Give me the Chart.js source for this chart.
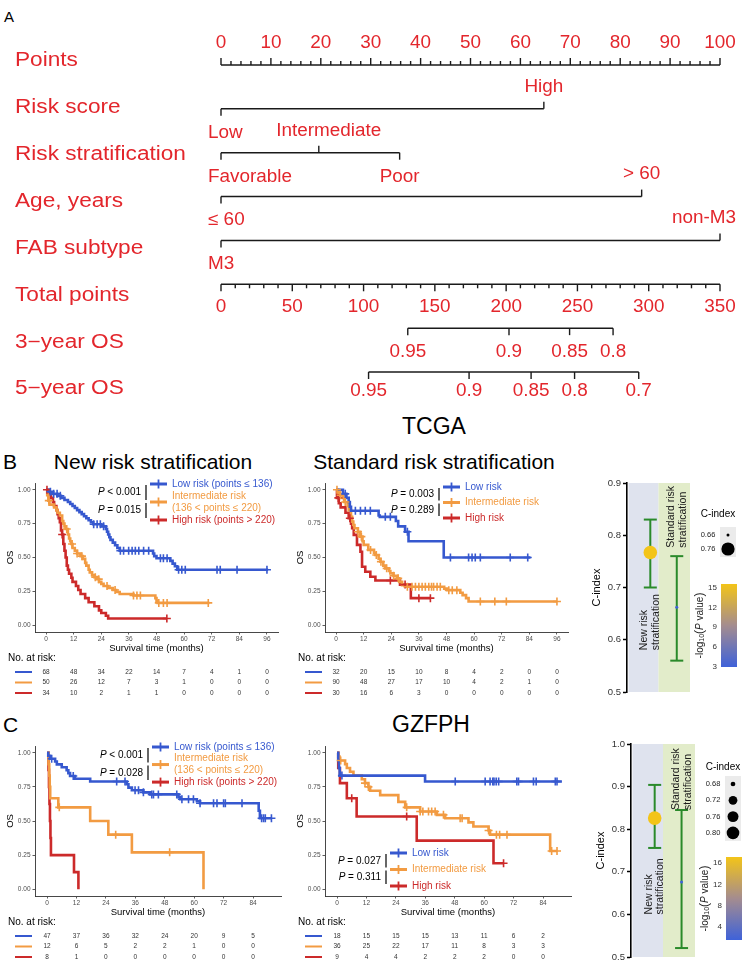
<!DOCTYPE html>
<html>
<head>
<meta charset="utf-8">
<title>Nomogram and survival by risk stratification</title>
<script src="https://cdn.jsdelivr.net/npm/chart.js@4.4.1/dist/chart.umd.min.js"></script>
<style>
  html, body { margin: 0; padding: 0; background: #fff; }
  body { width: 755px; height: 972px; position: relative; overflow: hidden; font-family: "Liberation Sans", Arial, sans-serif; }
  canvas { position: absolute; }
  .t { position: absolute; white-space: nowrap; line-height: 1; transform: translate(-50%, -50%); color: #000; }
  .lt { position: absolute; white-space: nowrap; line-height: 1; transform: translateY(-50%); color: #000; }
</style>
</head>
<body>
<div class="lt" style="left:4px;top:16px;font-size:15px">A</div>
<div class="lt" style="left:3px;top:461px;font-size:21px">B</div>
<div class="t" style="left:153px;top:461px;font-size:21px">New risk stratification</div>
<div class="t" style="left:434px;top:426px;font-size:23px">TCGA</div>
<div class="t" style="left:434px;top:461px;font-size:21px">Standard risk stratification</div>
<div class="lt" style="left:3px;top:724px;font-size:21px">C</div>
<div class="t" style="left:431px;top:724px;font-size:23px">GZFPH</div>

<canvas id="nomo"></canvas>
<canvas id="kmB1"></canvas>
<canvas id="kmB2"></canvas>
<canvas id="cB"></canvas>
<canvas id="kmC1"></canvas>
<canvas id="kmC2"></canvas>
<canvas id="cC"></canvas>

<script>
const FF = '"Liberation Sans", Arial, sans-serif';
const RED_TXT = '#e3262c';
const COLS = ['#3658cf', '#f29b42', '#cc2a2a'];
Chart.defaults.font.family = FF;

// ---------- nomogram (A)
const nomoRowNames = ['Points', 'Risk score', 'Risk stratification', 'Age, years', 'FAB subtype', 'Total points', '3\u2212year OS', '5\u2212year OS'];
const pointsTicks = [0, 10, 20, 30, 40, 50, 60, 70, 80, 90, 100];
const riskScoreLevels = ['Low', 'High'];
const riskScorePts = [0, 64.7];
const riskStratLevels = ['Favorable', 'Intermediate', 'Poor'];
const riskStratPts = [0, 19.6, 35.8];
const ageLevels = ['\u2264 60', '> 60'];
const agePts = [0, 84.3];
const fabLevels = ['M3', 'non-M3'];
const fabPts = [0, 100];
const totalTicks = [0, 50, 100, 150, 200, 250, 300, 350];
const os3Labels = ['0.95', '0.9', '0.85', '0.8'];
const os3Total = [131, 202, 244.5, 275];
const os5Labels = ['0.95', '0.9', '0.85', '0.8', '0.7'];
const os5Total = [103.5, 174, 217.5, 248, 293];

// ---------- Kaplan-Meier step points [months, OS] and censor times
const tcgaNewLow = [[0,1],[1.5,0.985],[3,0.97],[5,0.955],[6.5,0.94],[8,0.925],[9.5,0.91],[10.5,0.895],[11.5,0.88],[12.5,0.865],[13.5,0.85],[14.5,0.835],[15.5,0.82],[16.5,0.805],[17.5,0.79],[18.5,0.775],[19.5,0.76],[20.5,0.745],[24,0.73],[26,0.71],[26.5,0.69],[27,0.67],[27.5,0.65],[28,0.63],[29,0.61],[30,0.59],[31,0.57],[32,0.55],[46.5,0.53],[47,0.51],[48,0.495],[54,0.475],[55,0.455],[56,0.435],[57,0.41],[96.5,0.41]];
const tcgaNewInt = [[0,1],[0.5,0.96],[1,0.92],[1.5,0.89],[3.5,0.87],[4.5,0.85],[5,0.83],[6,0.81],[7,0.77],[7.5,0.75],[8,0.73],[8.5,0.71],[9.5,0.67],[10,0.64],[10.5,0.62],[11,0.6],[11.5,0.57],[12.5,0.55],[13.5,0.53],[15,0.51],[16,0.49],[17,0.46],[17.5,0.44],[18.5,0.41],[19,0.39],[20,0.37],[21,0.355],[22,0.34],[23,0.32],[24,0.305],[25,0.29],[27,0.275],[29,0.26],[30.5,0.245],[32,0.23],[38,0.22],[47.5,0.2],[48,0.18],[48.5,0.165],[71,0.165]];
const tcgaNewHigh = [[0,1],[1.5,0.97],[2,0.94],[3,0.91],[3.5,0.88],[4.5,0.85],[5,0.82],[5.5,0.79],[6,0.76],[6.5,0.7],[7,0.67],[7.5,0.6],[8,0.55],[8.5,0.5],[9,0.44],[9.5,0.41],[10,0.38],[11,0.35],[11.5,0.32],[13,0.29],[14,0.26],[15,0.23],[17,0.2],[18.5,0.17],[21,0.14],[23,0.11],[24,0.09],[26,0.07],[27,0.05],[52.5,0.05]];
const tcgaNewLowCens = [1.9,3.3,4.8,6.2,20.7,22.2,23.6,25,32.3,33.7,35.9,37.4,38.8,40.3,42.4,44.6,49.7,51,52.6,57.6,59,60.5,74.3,75.7,83,96];
const tcgaNewIntCens = [1.2,9,11.3,13.5,15.6,21.4,22.9,26.5,30,38,39.5,41,49,51,52.6,70.5];
const tcgaNewHighCens = [0.4,7,52.5];

const tcgaStdLow = [[0,1],[3,0.97],[4.5,0.94],[5.5,0.91],[6,0.875],[6.5,0.845],[18.5,0.81],[19,0.8],[26,0.77],[27,0.73],[30,0.69],[31.5,0.62],[46.8,0.5],[84.5,0.5]];
const tcgaStdInt = [[0,1],[1,0.98],[1.5,0.96],[3,0.94],[3.5,0.91],[5,0.88],[5.5,0.85],[6.5,0.8],[7,0.765],[7.5,0.74],[8,0.716],[9.5,0.69],[10.5,0.654],[11.5,0.62],[12,0.593],[14,0.556],[16.5,0.535],[17,0.519],[18.5,0.49],[19.3,0.469],[20.5,0.44],[21.4,0.42],[23,0.4],[23.6,0.383],[25,0.365],[26.5,0.346],[27.5,0.32],[28.7,0.296],[30.8,0.284],[47,0.27],[48.2,0.259],[54,0.24],[55,0.222],[56.5,0.2],[57.6,0.175],[96,0.175]];
const tcgaStdHigh = [[0,1],[0.4,0.94],[1.2,0.9],[2,0.87],[4.1,0.83],[5.5,0.79],[6.5,0.75],[7,0.716],[7.7,0.667],[9.1,0.593],[10.6,0.543],[11.3,0.432],[12.7,0.395],[14.9,0.358],[17.1,0.33],[27.8,0.3],[32.5,0.2],[41,0.2]];
const tcgaStdLowCens = [4,8.4,10.6,12.7,14.9,21.4,23.6,31,49.7,57.6,59.1,60.5,62.7,75.7,83.3];
const tcgaStdIntCens = [0.4,2,4,9.5,11,15,17.5,19.5,22,25,27,31,33,34.5,36,37.4,38.8,40.3,41.5,42.4,43.9,45.3,49,50.5,52.5,62.7,69,74,96];
const tcgaStdHighCens = [1,6,23.6,30,36,41];

const gzNewLow = [[0,1],[0.5,0.979],[1.2,0.957],[3.3,0.936],[4,0.915],[6,0.894],[8,0.872],[8.7,0.851],[9.4,0.83],[11.4,0.81],[17.6,0.79],[32.5,0.77],[33.2,0.745],[34.6,0.725],[39.3,0.71],[42,0.695],[53.6,0.675],[54.3,0.66],[61.1,0.645],[62.4,0.63],[86.3,0.575],[86.8,0.52],[91.5,0.52]];
const gzNewInt = [[0,1],[0.6,0.917],[0.9,0.833],[1.1,0.75],[1.3,0.667],[4.6,0.6],[17.6,0.5],[25,0.4],[34.6,0.27],[63.8,0]];
const gzNewHigh = [[0,1],[0.6,0.875],[0.8,0.75],[1,0.625],[1.2,0.5],[1.4,0.375],[1.6,0.25],[11,0.125],[12.8,0]];
const gzNewLowCens = [1.9,10.7,28.4,31.8,35.9,37.3,39.3,42.7,43.4,45.4,52.9,55,57.7,59.7,62.4,67.9,69.3,72,72.7,79.5,87.5,88.3,89,91.5];
const gzNewIntCens = [5,28,50];
const gzNewHighCens = [];

const gzStdLow = [[0,1],[0.5,0.944],[0.8,0.889],[1.1,0.833],[35.9,0.79],[91.7,0.79]];
const gzStdInt = [[0,1],[0.5,0.972],[1,0.944],[3.3,0.917],[4,0.889],[5.3,0.861],[6.7,0.833],[10.1,0.806],[11.4,0.778],[12.8,0.75],[13.5,0.722],[17.6,0.69],[25,0.64],[27.8,0.6],[33.9,0.57],[40.7,0.545],[44.1,0.52],[53.6,0.49],[55.6,0.46],[61.8,0.43],[62.4,0.4],[86.9,0.28],[89.7,0.28]];
const gzStdHigh = [[0,1],[0.5,0.889],[1.2,0.778],[4,0.667],[8,0.533],[32.5,0.356],[63.8,0.19],[67.9,0.19]];
const gzStdLowCens = [2,48.2,60.4,62.4,63.5,64,64.9,65.9,73.3,74,80.1,81.2,89,89.7];
const gzStdIntCens = [1.5,11.4,12.8,28.4,33.9,35,37.3,38.6,40,43.4,50.2,51,61.8,65,66.3,69.3,87.5,89.7];
const gzStdHighCens = [6,28.4,67.9];

// ---------- numbers at risk
const riskTimesTcga = [0, 12, 24, 36, 48, 60, 72, 84, 96];
const riskTimesGz = [0, 12, 24, 36, 48, 60, 72, 84];
const tcgaNewAtRisk = [[68,48,34,22,14,7,4,1,0],[50,26,12,7,3,1,0,0,0],[34,10,2,1,1,0,0,0,0]];
const tcgaStdAtRisk = [[32,20,15,10,8,4,2,0,0],[90,48,27,17,10,4,2,1,0],[30,16,6,3,0,0,0,0,0]];
const gzNewAtRisk = [[47,37,36,32,24,20,9,5],[12,6,5,2,2,1,0,0],[8,1,0,0,0,0,0,0]];
const gzStdAtRisk = [[18,15,15,15,13,11,6,2],[36,25,22,17,11,8,3,3],[9,4,4,2,2,2,0,0]];

const tcgaNewP = ['< 0.001', '= 0.015'];
const tcgaStdP = ['= 0.003', '= 0.289'];
const gzNewP = ['< 0.001', '= 0.028'];
const gzStdP = ['= 0.027', '= 0.311'];
const newRiskLabels = [['Low risk (points \u2264 136)'], ['Intermediate risk', '(136 < points \u2264 220)'], ['High risk (points > 220)']];
const stdRiskLabels = [['Low risk'], ['Intermediate risk'], ['High risk']];

// ---------- C-index comparison
const cGroups = ['New risk stratification', 'Standard risk stratification'];
const tcgaCIndex = [0.767, 0.662];
const tcgaCLow = [0.70, 0.56];
const tcgaCHigh = [0.83, 0.76];
const tcgaLogP = [15.6, 2.9];
const tcgaSizeLegend = [0.66, 0.76];
const tcgaBarTicks = [3, 6, 9, 12, 15];
const gzCIndex = [0.826, 0.676];
const gzCLow = [0.756, 0.521];
const gzCHigh = [0.904, 0.845];
const gzLogP = [17.1, 1.6];
const gzSizeLegend = [0.68, 0.72, 0.76, 0.80];
const gzBarTicks = [4, 8, 12, 16];

// ---------- helpers
function sText(ctx, s, x, y, align, size, hs) {
  ctx.save();
  ctx.font = size + 'px ' + FF;
  ctx.textBaseline = 'middle';
  ctx.translate(x, y);
  ctx.scale(hs, 1);
  ctx.textAlign = align;
  ctx.fillText(s, 0, 0);
  ctx.restore();
}
function sWidth(ctx, s, size, hs) {
  ctx.save();
  ctx.font = size + 'px ' + FF;
  const w = ctx.measureText(s).width * hs;
  ctx.restore();
  return w;
}
function seg(ctx, x1, y1, x2, y2) {
  ctx.beginPath(); ctx.moveTo(x1, y1); ctx.lineTo(x2, y2); ctx.stroke();
}
function survAt(curve, t) {
  let s = curve[0][1];
  curve.forEach(p => { if (p[0] <= t) s = p[1]; });
  return s;
}
function place(cv, L, T, W, H) {
  cv.width = W; cv.height = H;
  cv.style.left = L + 'px'; cv.style.top = T + 'px';
  cv.style.width = W + 'px'; cv.style.height = H + 'px';
}

// ---------- nomogram chart
const varRows = [[riskScoreLevels, riskScorePts], [riskStratLevels, riskStratPts], [ageLevels, agePts], [fabLevels, fabPts]];
const osRows = [[os3Labels, os3Total], [os5Labels, os5Total]];
const nomoLine = (axis, row, vals) => ({
  xAxisID: axis, yAxisID: 'y',
  data: [{ x: Math.min(...vals), y: row }, { x: Math.max(...vals), y: row }],
  showLine: true, borderColor: '#1a1a1a', borderWidth: 1.5, pointRadius: 0, clip: false
});
const nomoSets = [nomoLine('pts', 0, pointsTicks)];
varRows.forEach((r, i) => nomoSets.push(nomoLine('pts', i + 1, r[1])));
nomoSets.push(nomoLine('tot', 5, totalTicks));
osRows.forEach((r, i) => nomoSets.push(nomoLine('tot', 6 + i, r[1])));

const nomoPlugin = {
  id: 'nomo',
  afterDatasetsDraw(chart) {
    const ctx = chart.ctx, ca = chart.chartArea;
    const pts = chart.scales.pts, tot = chart.scales.tot, ys = chart.scales.y;
    const rowY = i => ys.getPixelForValue(i);
    ctx.save();
    ctx.strokeStyle = '#1a1a1a';
    ctx.lineWidth = 1.4;
    ctx.fillStyle = RED_TXT;
    const tick = (x, y, len) => seg(ctx, x, y, x, y + len);
    const label = (s, x, y) => {
      const w = sWidth(ctx, s, 17.5, 1.08);
      let cx = x;
      if (cx - w / 2 < ca.left - 13) cx = ca.left - 13 + w / 2;
      if (cx + w / 2 > ca.right + 16) cx = ca.right + 16 - w / 2;
      sText(ctx, s, cx, y, 'center', 17.5, 1.08);
    };
    nomoRowNames.forEach((n, i) => sText(ctx, n, 15, rowY(i) + 3 * i - 4, 'left', 19.5, 1.16));

    // Points scale
    let y = rowY(0);
    for (let v = pointsTicks[0]; v <= pointsTicks[pointsTicks.length - 1]; v += 2) {
      tick(pts.getPixelForValue(v), y, v % 10 === 0 ? -7 : -4);
    }
    pointsTicks.forEach(v => label(String(v), pts.getPixelForValue(v), y - 22));

    // predictors
    varRows.forEach(([levels, vals], k) => {
      const yy = rowY(k + 1);
      levels.forEach((lv, j) => {
        const up = j % 2 === 1;
        const x = pts.getPixelForValue(vals[j]);
        tick(x, yy, up ? -7 : 7);
        label(lv, x + (up && j < levels.length - 1 ? 10 : 0), up ? yy - 22 : yy + 24);
      });
    });

    // Total points
    y = rowY(5);
    for (let v = totalTicks[0]; v <= totalTicks[totalTicks.length - 1]; v += 10) {
      tick(tot.getPixelForValue(v), y, v % 50 === 0 ? 7 : 4);
    }
    totalTicks.forEach(v => label(String(v), tot.getPixelForValue(v), y + 23));

    // survival probabilities
    osRows.forEach(([labs, vals], k) => {
      const yy = rowY(6 + k);
      vals.forEach((v, j) => {
        const x = tot.getPixelForValue(v);
        tick(x, yy, 7);
        label(labs[j], x, yy + (k === 0 ? 24 : 19));
      });
    });
    ctx.restore();
  }
};

const nomoCv = document.getElementById('nomo');
place(nomoCv, 0, 0, 755, 405);
new Chart(nomoCv, {
  type: 'scatter',
  data: { datasets: nomoSets },
  options: {
    responsive: false, animation: false, events: [],
    layout: { autoPadding: false, padding: { left: 221, right: 35, top: 65, bottom: 33 } },
    plugins: { legend: { display: false }, tooltip: { enabled: false } },
    scales: {
      pts: { type: 'linear', axis: 'x', min: 0, max: 100, display: false },
      tot: { type: 'linear', axis: 'x', min: 0, max: 350, display: false },
      y: { type: 'linear', min: 0, max: 7, reverse: true, display: false }
    }
  },
  plugins: [nomoPlugin]
});

// ---------- KM charts
function drawP(ctx, txt, xRight, y) {
  ctx.font = 'italic 10px ' + FF;
  const wP = ctx.measureText('P').width;
  ctx.font = '10px ' + FF;
  const wR = ctx.measureText(' ' + txt).width;
  const x = xRight - wP - wR;
  ctx.fillStyle = '#000';
  ctx.textAlign = 'left';
  ctx.font = 'italic 10px ' + FF;
  ctx.fillText('P', x, y);
  ctx.font = '10px ' + FF;
  ctx.fillText(' ' + txt, x + wP, y);
}

function kmChart(id, o) {
  const cv = document.getElementById(id);
  place(cv, o.L, o.T, o.W, o.H);
  const a = o.area;
  const sets = [];
  o.curves.forEach((curve, i) => {
    sets.push({
      data: o.cens[i].map(t => ({ x: t, y: survAt(curve, t) })),
      showLine: false, pointStyle: 'cross', pointRadius: 4,
      pointBorderWidth: 1.6, pointBorderColor: COLS[i], pointBackgroundColor: COLS[i], order: 1
    });
    sets.push({
      data: curve.map(p => ({ x: p[0], y: p[1] })),
      showLine: true, stepped: 'before', borderColor: COLS[i], borderWidth: 2.6,
      pointRadius: 0, fill: false, order: 2
    });
  });
  const kmPlugin = {
    id: 'km_' + id,
    afterDraw(chart) {
      const ctx = chart.ctx, ca = chart.chartArea, xs = chart.scales.x;
      ctx.save();
      ctx.textBaseline = 'middle';
      ctx.fillStyle = '#000';
      ctx.font = '9.5px ' + FF;
      ctx.textAlign = 'center';
      ctx.fillText('Survival time (months)', (ca.left + ca.right) / 2, ca.bottom + 16.5);
      ctx.save();
      ctx.translate(ca.left - 25, (ca.top + ca.bottom) / 2);
      ctx.rotate(-Math.PI / 2);
      ctx.fillText('OS', 0, 0);
      ctx.restore();
      ctx.font = '10px ' + FF;
      ctx.textAlign = 'left';
      ctx.fillText('No. at risk:', ca.left - 27, ca.bottom + 26);
      o.atRisk.forEach((row, i) => {
        const y = ca.bottom + 40 + 10.5 * i;
        ctx.strokeStyle = COLS[i];
        ctx.lineWidth = 2;
        seg(ctx, ca.left - 20, y, ca.left - 3, y);
        ctx.font = '6.5px ' + FF;
        ctx.fillStyle = '#333';
        ctx.textAlign = 'center';
        row.forEach((n, j) => ctx.fillText(String(n), xs.getPixelForValue(o.ticks[j]), y));
      });

      // legend with p-values
      const bx = ca.left + o.leg.bx;
      const baseY = o.leg.fromBottom ? ca.bottom + o.leg.y0 : ca.top + o.leg.y0;
      let li = 0;
      const keyYs = [];
      o.labels.forEach((lines, i) => {
        const ly = lines.map(() => baseY + o.leg.step * li++);
        ctx.fillStyle = COLS[i];
        ctx.font = '10px ' + FF;
        ctx.textAlign = 'left';
        lines.forEach((s, k) => ctx.fillText(s, bx + 26, ly[k]));
        const ky = (ly[0] + ly[ly.length - 1]) / 2;
        keyYs.push(ky);
        ctx.strokeStyle = COLS[i];
        ctx.lineWidth = 3;
        seg(ctx, bx + 4, ky, bx + 21, ky);
        ctx.lineWidth = 1.8;
        seg(ctx, bx + 12.5, ky - 4.5, bx + 12.5, ky + 4.5);
      });
      o.pvals.forEach((p, i) => {
        const y1 = keyYs[i] + 1, y2 = keyYs[i + 1] - 2;
        ctx.strokeStyle = '#000';
        ctx.lineWidth = 1.2;
        seg(ctx, bx, y1, bx, y2);
        drawP(ctx, p, bx - 5, (y1 + y2) / 2);
      });
      ctx.restore();
    }
  };
  new Chart(cv, {
    type: 'scatter',
    data: { datasets: sets },
    options: {
      responsive: false, animation: false, events: [],
      layout: { autoPadding: false, padding: { left: 0, top: a.top - o.T, right: o.L + o.W - a.right, bottom: o.T + o.H - a.bottom - 12 } },
      plugins: { legend: { display: false }, tooltip: { enabled: false } },
      scales: {
        x: {
          type: 'linear', min: o.xMin, max: o.xMax,
          afterBuildTicks: s => { s.ticks = o.ticks.map(v => ({ value: v })); },
          afterFit: s => { s.height = 12; },
          ticks: { font: { size: 6.5 }, color: '#4d4d4d', padding: 1, maxRotation: 0, callback: v => String(v) },
          grid: { display: true, drawOnChartArea: false, drawTicks: true, tickLength: 2.5, tickColor: '#333', tickWidth: 0.8 },
          border: { display: true, color: '#333', width: 0.9 }
        },
        y: {
          type: 'linear', min: -0.05, max: 1.05,
          afterBuildTicks: s => { s.ticks = [0, 0.25, 0.5, 0.75, 1].map(v => ({ value: v })); },
          afterFit: s => { s.width = a.left - o.L; },
          ticks: { font: { size: 6.5 }, color: '#4d4d4d', padding: 2, callback: v => v.toFixed(2) },
          grid: { display: true, drawOnChartArea: false, drawTicks: true, tickLength: 2.5, tickColor: '#333', tickWidth: 0.8 },
          border: { display: true, color: '#333', width: 0.9 }
        }
      }
    },
    plugins: [kmPlugin]
  });
}

kmChart('kmB1', {
  L: 0, T: 470, W: 290, H: 230, area: { left: 35, top: 483, right: 278, bottom: 632 },
  xMin: -4.8, xMax: 100.8, ticks: riskTimesTcga,
  curves: [tcgaNewLow, tcgaNewInt, tcgaNewHigh], cens: [tcgaNewLowCens, tcgaNewIntCens, tcgaNewHighCens],
  atRisk: tcgaNewAtRisk, pvals: tcgaNewP, labels: newRiskLabels,
  leg: { bx: 111, y0: 1, step: 12, fromBottom: false }
});
kmChart('kmB2', {
  L: 290, T: 470, W: 290, H: 230, area: { left: 325, top: 483, right: 568, bottom: 632 },
  xMin: -4.8, xMax: 100.8, ticks: riskTimesTcga,
  curves: [tcgaStdLow, tcgaStdInt, tcgaStdHigh], cens: [tcgaStdLowCens, tcgaStdIntCens, tcgaStdHighCens],
  atRisk: tcgaStdAtRisk, pvals: tcgaStdP, labels: stdRiskLabels,
  leg: { bx: 114, y0: 4, step: 15.5, fromBottom: false }
});
kmChart('kmC1', {
  L: 0, T: 735, W: 290, H: 237, area: { left: 35, top: 746, right: 281, bottom: 896 },
  xMin: -4.9, xMax: 95.4, ticks: riskTimesGz,
  curves: [gzNewLow, gzNewInt, gzNewHigh], cens: [gzNewLowCens, gzNewIntCens, gzNewHighCens],
  atRisk: gzNewAtRisk, pvals: gzNewP, labels: newRiskLabels,
  leg: { bx: 113, y0: 1, step: 11.7, fromBottom: false }
});
kmChart('kmC2', {
  L: 290, T: 735, W: 290, H: 237, area: { left: 325, top: 746, right: 571, bottom: 896 },
  xMin: -4.9, xMax: 95.4, ticks: riskTimesGz,
  curves: [gzStdLow, gzStdInt, gzStdHigh], cens: [gzStdLowCens, gzStdIntCens, gzStdHighCens],
  atRisk: gzStdAtRisk, pvals: gzStdP, labels: stdRiskLabels,
  leg: { bx: 61, y0: -43, step: 16.5, fromBottom: true }
});

// ---------- C-index charts
const cxPos = [0.74, 1.58];
const GRAD = [[63, 98, 217], [164, 140, 143], [243, 196, 24]];
function gradColor(t) {
  t = Math.max(0, Math.min(1, t));
  const k = t < 0.5 ? 0 : 1, f = t < 0.5 ? t * 2 : (t - 0.5) * 2;
  const c = GRAD[k].map((v, i) => Math.round(v + (GRAD[k + 1][i] - v) * f));
  return 'rgb(' + c.join(',') + ')';
}

function drawRot(ctx, s, x, y, align) {
  ctx.save();
  ctx.translate(x, y);
  ctx.rotate(-Math.PI / 2);
  ctx.textAlign = align;
  ctx.textBaseline = 'middle';
  ctx.fillText(s, 0, 0);
  ctx.restore();
}

function drawLogTitle(ctx, x, y) {
  ctx.save();
  ctx.translate(x, y);
  ctx.rotate(-Math.PI / 2);
  const parts = [['-log', '10px ' + FF, 0], ['10', '7px ' + FF, 2.5], ['(', '12px ' + FF, 0], ['P', 'italic 10px ' + FF, 0], [' value', '10px ' + FF, 0], [')', '12px ' + FF, 0]];
  let tw = 0;
  parts.forEach(p => { ctx.font = p[1]; p.w = ctx.measureText(p[0]).width; tw += p.w; });
  let cx = -tw / 2;
  ctx.textBaseline = 'middle';
  ctx.textAlign = 'left';
  ctx.fillStyle = '#222';
  parts.forEach(p => { ctx.font = p[1]; ctx.fillText(p[0], cx, p[2]); cx += p.w; });
  ctx.restore();
}

function cChart(id, o) {
  const cv = document.getElementById(id);
  place(cv, o.L, o.T, o.W, o.H);
  const a = o.area;
  const cMin = Math.min(...o.cidx), cMax = Math.max(...o.cidx);
  const pMin = Math.min(...o.logp), pMax = Math.max(...o.logp);
  const sizeFor = c => 1.5 + 5.3 * Math.sqrt(Math.max(0, Math.min(1, (c - cMin) / (cMax - cMin))));
  const colFor = v => gradColor((v - pMin) / (pMax - pMin));

  const cPlugin = {
    id: 'c_' + id,
    beforeDatasetsDraw(chart) {
      const ctx = chart.ctx, ca = chart.chartArea, xs = chart.scales.x, ys = chart.scales.y;
      ctx.save();
      const split = xs.getPixelForValue(1.0);
      ctx.fillStyle = '#dfe3ee';
      ctx.fillRect(xs.getPixelForValue(0) + 1.5, ca.top, split - xs.getPixelForValue(0) - 1.5, ca.bottom - ca.top);
      ctx.fillStyle = '#e2ecca';
      ctx.fillRect(split, ca.top, xs.getPixelForValue(2) - split, ca.bottom - ca.top);
      ctx.strokeStyle = '#2a8a2a';
      ctx.lineWidth = 2;
      o.cidx.forEach((c, i) => {
        const x = xs.getPixelForValue(cxPos[i]);
        const yl = ys.getPixelForValue(o.lo[i]), yh = ys.getPixelForValue(o.hi[i]);
        seg(ctx, x, yl, x, yh);
        seg(ctx, x - 6.5, yl, x + 6.5, yl);
        seg(ctx, x - 6.5, yh, x + 6.5, yh);
      });
      ctx.restore();
    },
    afterDraw(chart) {
      const ctx = chart.ctx, ca = chart.chartArea, xs = chart.scales.x;
      const h = ca.bottom - ca.top;
      ctx.save();
      ctx.fillStyle = '#1a1a1a';
      ctx.font = '10.5px ' + FF;
      const split = xs.getPixelForValue(1.0), right = xs.getPixelForValue(2);
      drawRot(ctx, 'New risk', split - 14, ca.top + 0.8 * h, 'left');
      drawRot(ctx, 'stratification', split - 2.5, ca.top + 0.8 * h, 'left');
      drawRot(ctx, 'Standard risk', right - 19, ca.top + 0.31 * h, 'left');
      drawRot(ctx, 'stratification', right - 7, ca.top + 0.31 * h, 'left');
      ctx.font = '11px ' + FF;
      ctx.fillStyle = '#000';
      drawRot(ctx, 'C-index', ca.left - 30, (ca.top + ca.bottom) / 2, 'center');

      // size legend
      const ly = ca.top + o.legY;
      ctx.textBaseline = 'middle';
      ctx.textAlign = 'center';
      ctx.font = '10px ' + FF;
      ctx.fillText('C-index', ca.right + 28, ly);
      const ey = o.sizeLegend.map((v, i) => ly + o.legFirst + o.legStep * i);
      ctx.fillStyle = '#ebebeb';
      ctx.fillRect(ca.right + 30, ey[0] - 8, 16, ey[ey.length - 1] - ey[0] + 16);
      o.sizeLegend.forEach((v, i) => {
        ctx.fillStyle = '#222';
        ctx.font = '7.5px ' + FF;
        ctx.fillText(v.toFixed(2), ca.right + 18, ey[i]);
        ctx.fillStyle = '#000';
        ctx.beginPath();
        ctx.arc(ca.right + 38, ey[i], sizeFor(v), 0, Math.PI * 2);
        ctx.fill();
      });

      // colour bar
      const bTop = ca.top + o.barTop, bBot = bTop + 83, bx = ca.right + 31;
      const g = ctx.createLinearGradient(0, bBot, 0, bTop);
      for (let k = 0; k <= 10; k++) g.addColorStop(k / 10, gradColor(k / 10));
      ctx.fillStyle = g;
      ctx.fillRect(bx, bTop, 16, bBot - bTop);
      ctx.fillStyle = '#333';
      ctx.font = '8px ' + FF;
      ctx.textAlign = 'right';
      o.barTicks.forEach(v => {
        const y = bBot - (v - pMin) / (pMax - pMin) * (bBot - bTop);
        ctx.fillText(String(v), ca.right + 27, y);
      });
      drawLogTitle(ctx, ca.right + 10, (bTop + bBot) / 2);
      ctx.restore();
    }
  };

  new Chart(cv, {
    type: 'bubble',
    data: {
      labels: cGroups,
      datasets: [{
        data: o.cidx.map((c, i) => ({ x: cxPos[i], y: c, r: sizeFor(c) })),
        backgroundColor: o.logp.map(colFor),
        borderColor: o.logp.map(colFor),
        borderWidth: 0
      }]
    },
    options: {
      responsive: false, animation: false, events: [],
      layout: { autoPadding: false, padding: { left: 0, top: a.top - o.T, right: o.L + o.W - a.right, bottom: o.T + o.H - a.bottom } },
      plugins: { legend: { display: false }, tooltip: { enabled: false } },
      scales: {
        x: { type: 'linear', min: 0, max: 2, display: false },
        y: {
          type: 'linear', min: o.yMin, max: o.yMax,
          afterFit: s => { s.width = a.left - o.L; },
          ticks: { stepSize: 0.1, font: { size: 9.5 }, color: '#333', padding: 2, callback: v => v.toFixed(1) },
          grid: { display: true, drawOnChartArea: false, drawTicks: true, tickLength: 4, tickColor: '#000', tickWidth: 1.5 },
          border: { display: true, color: '#000', width: 1.6 }
        }
      }
    },
    plugins: [cPlugin]
  });
}

cChart('cB', {
  L: 575, T: 470, W: 180, H: 230, area: { left: 627, top: 483, right: 690, bottom: 692 },
  yMin: 0.5, yMax: 0.9, cidx: tcgaCIndex, lo: tcgaCLow, hi: tcgaCHigh, logp: tcgaLogP,
  sizeLegend: tcgaSizeLegend, barTicks: tcgaBarTicks, legY: 31, legFirst: 21, legStep: 14, barTop: 101
});
cChart('cC', {
  L: 575, T: 730, W: 180, H: 242, area: { left: 631, top: 744, right: 695, bottom: 957 },
  yMin: 0.5, yMax: 1.0, cidx: gzCIndex, lo: gzCLow, hi: gzCHigh, logp: gzLogP,
  sizeLegend: gzSizeLegend, barTicks: gzBarTicks, legY: 23, legFirst: 17, legStep: 16.3, barTop: 113
});
</script>
</body>
</html>
